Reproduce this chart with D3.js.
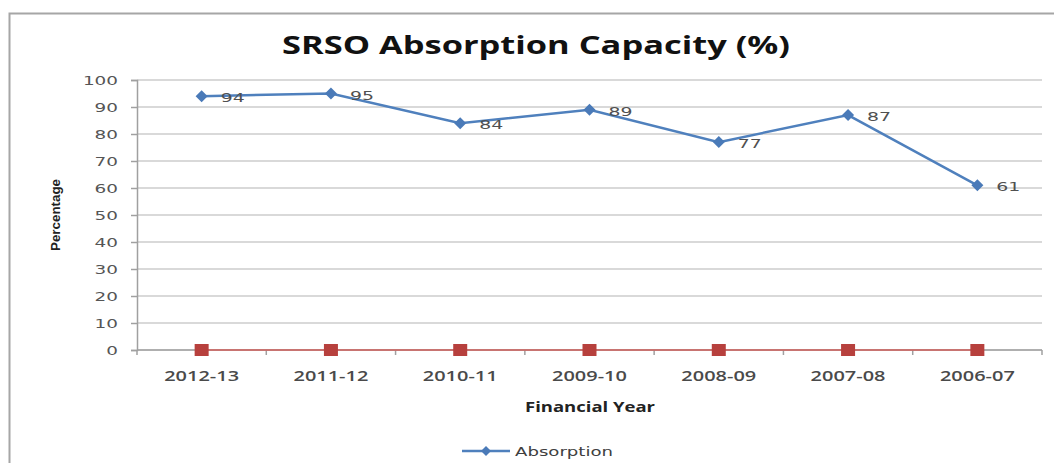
<!DOCTYPE html>
<html>
<head>
<meta charset="utf-8">
<script src="https://cdn.jsdelivr.net/npm/d3@7"></script>
<style>
  body { margin: 0; background: #fff; }
  text { font-family: "DejaVu Sans", "Open Sans", sans-serif; }
</style>
</head>
<body>
<div id="chart"></div>
<script>
// chart data
var years = ["2012-13", "2011-12", "2010-11", "2009-10", "2008-09", "2007-08", "2006-07"];
var absorption = [94, 95, 84, 89, 77, 87, 61];
var zeroSeries = [0, 0, 0, 0, 0, 0, 0];
var yTicks = [0, 10, 20, 30, 40, 50, 60, 70, 80, 90, 100];

var W = 1054, H = 463;
var margin = {top: 80, right: 12, bottom: 113, left: 137},
    width = W - margin.left - margin.right,
    height = H - margin.top - margin.bottom;

// the source picture is stretched sideways, so text gets a fixed length
function stretch(sel, perChar) {
    sel.attr("textLength", function() { return this.textContent.length * perChar; })
       .attr("lengthAdjust", "spacingAndGlyphs");
}

var svg = d3.select("#chart")
    .append("svg")
    .attr("width", W)
    .attr("height", H);

// outer frame
svg.append("rect")
    .attr("x", 9.5).attr("y", 13.5)
    .attr("width", W + 20).attr("height", H + 20)
    .attr("fill", "none")
    .attr("stroke", "#a6a6a6")
    .attr("stroke-width", 2);

var g = svg.append("g")
    .attr("transform", "translate(" + margin.left + "," + margin.top + ")");

var x = d3.scaleBand()
    .range([0, width])
    .domain(years);

var y = d3.scaleLinear()
    .domain([0, 100])
    .range([height, 0]);

// gridlines
g.selectAll(".grid")
    .data(yTicks)
    .enter().append("line")
    .attr("class", "grid")
    .attr("x1", 0).attr("x2", width)
    .attr("y1", function(d) { return y(d); })
    .attr("y2", function(d) { return y(d); })
    .attr("stroke", "#cccccc")
    .attr("stroke-width", 1.5);

// Y axis
var yAxis = g.append("g")
    .call(d3.axisLeft(y).tickValues(yTicks).tickSize(6).tickPadding(13));
yAxis.select(".domain").attr("stroke", "#a0a0a0").attr("stroke-width", 1.5);
yAxis.selectAll(".tick line").attr("stroke", "#a0a0a0").attr("stroke-width", 1.5);
yAxis.selectAll("text")
    .attr("fill", "#555")
    .style("font-size", "13px")
    .style("font-family", "'DejaVu Sans', sans-serif")
    .call(stretch, 11.7);

// X axis: ticks sit between categories
var xAxis = g.append("g")
    .attr("transform", "translate(0," + height + ")");
xAxis.append("line")
    .attr("x1", 0).attr("x2", width)
    .attr("stroke", "#a0a0a0").attr("stroke-width", 1.5);
xAxis.selectAll(".xt")
    .data(years.concat(["end"]))
    .enter().append("line")
    .attr("class", "xt")
    .attr("x1", function(d, i) { return i * x.step(); })
    .attr("x2", function(d, i) { return i * x.step(); })
    .attr("y1", 0).attr("y2", 5)
    .attr("stroke", "#a0a0a0").attr("stroke-width", 1.5);
xAxis.selectAll(".xl")
    .data(years)
    .enter().append("text")
    .attr("class", "xl")
    .attr("x", function(d) { return x(d) + x.bandwidth() / 2; })
    .attr("y", 31)
    .attr("text-anchor", "middle")
    .attr("fill", "#4a4a4a")
    .style("font-size", "15px")
    .style("font-weight", "600")
    .style("font-family", "'Open Sans', sans-serif")
    .text(function(d) { return d; })
    .call(stretch, 10.7);

// zero series (red)
var zeroData = years.map(function(d, i) { return {year: d, value: zeroSeries[i]}; });
g.append("path")
    .datum(zeroData)
    .attr("fill", "none")
    .attr("stroke", "#d0605c")
    .attr("stroke-width", 1.5)
    .attr("d", d3.line()
        .x(function(d) { return x(d.year) + x.bandwidth() / 2; })
        .y(function(d) { return y(d.value); }));
g.selectAll(".sq")
    .data(zeroData)
    .enter().append("rect")
    .attr("class", "sq")
    .attr("x", function(d) { return x(d.year) + x.bandwidth() / 2 - 7; })
    .attr("y", function(d) { return y(d.value) - 6; })
    .attr("width", 14).attr("height", 12)
    .attr("fill", "#b7403d");

// absorption series (blue)
var absData = years.map(function(d, i) { return {year: d, value: absorption[i]}; });
g.append("path")
    .datum(absData)
    .attr("fill", "none")
    .attr("stroke", "#4f80bd")
    .attr("stroke-width", 2.5)
    .attr("d", d3.line()
        .x(function(d) { return x(d.year) + x.bandwidth() / 2; })
        .y(function(d) { return y(d.value); }));
g.selectAll(".dm")
    .data(absData)
    .enter().append("path")
    .attr("class", "dm")
    .attr("transform", function(d) {
        return "translate(" + (x(d.year) + x.bandwidth() / 2) + "," + y(d.value) + ")";
    })
    .attr("d", "M0,-6L6,0L0,6L-6,0Z")
    .attr("fill", "#4a7ab8");
g.selectAll(".lbl")
    .data(absData)
    .enter().append("text")
    .attr("class", "lbl")
    .attr("x", function(d) { return x(d.year) + x.bandwidth() / 2 + 19; })
    .attr("y", function(d) { return y(d.value) + 6; })
    .attr("fill", "#505050")
    .style("font-size", "13px")
    .text(function(d) { return d.value; })
    .call(stretch, 12);

// title
svg.append("text")
    .attr("x", 536).attr("y", 54)
    .attr("text-anchor", "middle")
    .attr("fill", "#111")
    .style("font-size", "25px")
    .style("font-weight", "bold")
    .style("font-family", "'Open Sans', sans-serif")
    .text("SRSO Absorption Capacity (%)")
    .attr("textLength", 508)
    .attr("lengthAdjust", "spacingAndGlyphs");

// axis titles
svg.append("text")
    .attr("transform", "translate(60,215) rotate(-90)")
    .attr("text-anchor", "middle")
    .attr("fill", "#222")
    .style("font-size", "12px")
    .style("font-weight", "bold")
    .style("font-family", "'Liberation Sans Narrow', 'Liberation Sans', sans-serif")
    .text("Percentage")
    .attr("textLength", 72)
    .attr("lengthAdjust", "spacingAndGlyphs");
svg.append("text")
    .attr("x", 590).attr("y", 412)
    .attr("text-anchor", "middle")
    .attr("fill", "#222")
    .style("font-size", "14px")
    .style("font-weight", "bold")
    .style("font-family", "'Open Sans', sans-serif")
    .text("Financial Year")
    .attr("textLength", 130)
    .attr("lengthAdjust", "spacingAndGlyphs");

// legend
var lg = svg.append("g").attr("transform", "translate(462,451)");
lg.append("line")
    .attr("x1", 0).attr("x2", 48)
    .attr("stroke", "#4f80bd").attr("stroke-width", 2.5);
lg.append("path")
    .attr("transform", "translate(24,0)")
    .attr("d", "M0,-5L5,0L0,5L-5,0Z")
    .attr("fill", "#4a7ab8");
lg.append("text")
    .attr("x", 53).attr("y", 5)
    .attr("fill", "#404040")
    .style("font-size", "13px")
    .text("Absorption")
    .attr("textLength", 98)
    .attr("lengthAdjust", "spacingAndGlyphs");
</script>
</body>
</html>
